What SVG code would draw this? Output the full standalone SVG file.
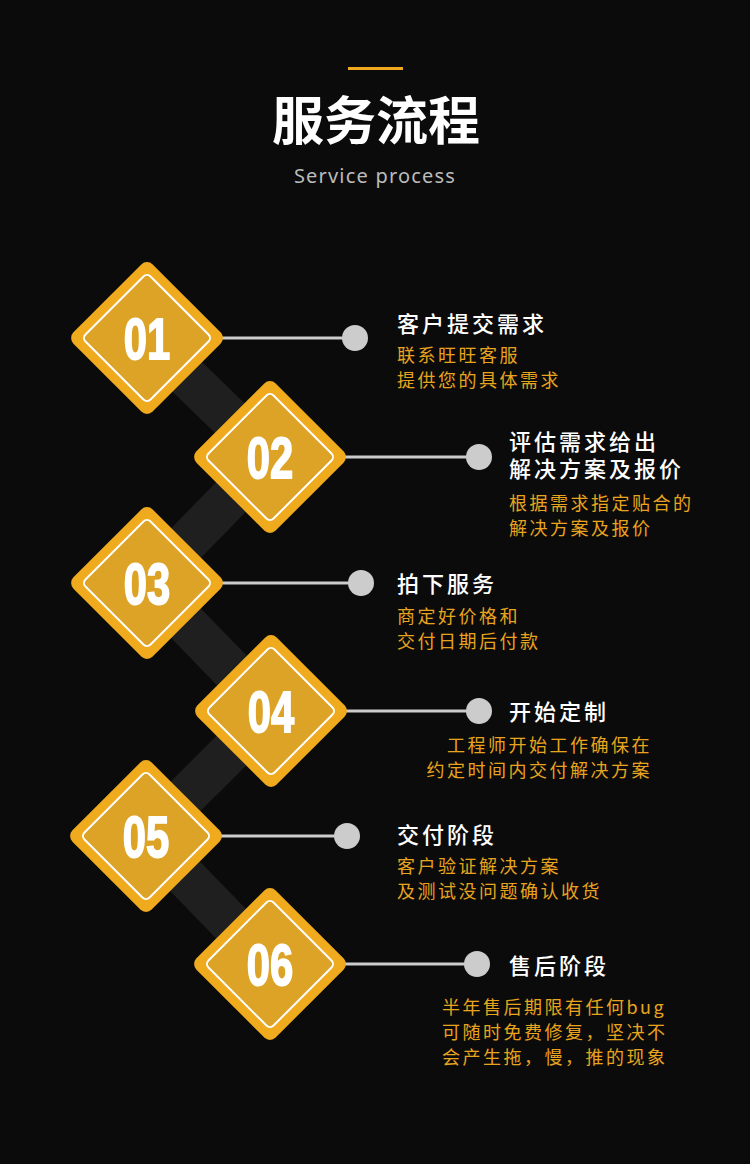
<svg xmlns="http://www.w3.org/2000/svg" width="750" height="1164" viewBox="0 0 750 1164">
<defs>
<style>
.cjk{font-family:"Noto Sans CJK SC","Noto Sans",sans-serif}
.title{font-size:22px;fill:#ffffff;letter-spacing:3px;font-weight:500}
.sub{font-size:18px;fill:#E8A41E;letter-spacing:2.5px}
.num{font-family:"Liberation Sans",Arial,sans-serif;font-weight:bold;font-size:58px;fill:#ffffff;stroke:#ffffff;stroke-width:1.8;text-anchor:middle}
.outer{fill:#F0AA1E}
.inner{fill:#DCA326;stroke:#ffffff;stroke-width:2}
.band{stroke:#1f1f1f;stroke-width:42;fill:none}
.link{stroke:#cccccc;stroke-width:3;fill:none}
.dot{fill:#cccccc}
</style>
<g id="diamond">
<rect x="-56" y="-56" width="112" height="112" rx="8" transform="rotate(45)" class="outer"/>
<rect x="-46" y="-46" width="92" height="92" rx="5" transform="rotate(45)" class="inner"/>
</g>
</defs>
<rect width="750" height="1164" fill="#0b0b0b"/>
<g id="header">
<rect x="348" y="67" width="55" height="3" fill="#F0A81E"/>
<text x="376" y="140" text-anchor="middle" class="cjk" font-size="52" font-weight="bold" fill="#ffffff">服务流程</text>
<text x="375" y="183" text-anchor="middle" font-family="Noto Sans, sans-serif" font-size="20" letter-spacing="1.2" fill="#bbbbbb">Service process</text>
</g>
<g id="connectors">
<line class="band" x1="147" y1="338" x2="270" y2="457"/>
<line class="band" x1="270" y1="457" x2="147" y2="583"/>
<line class="band" x1="147" y1="583" x2="271" y2="711"/>
<line class="band" x1="271" y1="711" x2="146" y2="836"/>
<line class="band" x1="146" y1="836" x2="270" y2="964"/>
<line class="link" x1="220" y1="338" x2="355" y2="338"/><circle class="dot" cx="355" cy="338" r="13"/>
<line class="link" x1="343" y1="457" x2="479" y2="457"/><circle class="dot" cx="479" cy="457" r="13"/>
<line class="link" x1="220" y1="583" x2="361" y2="583"/><circle class="dot" cx="361" cy="583" r="13"/>
<line class="link" x1="344" y1="711" x2="479" y2="711"/><circle class="dot" cx="479" cy="711" r="13"/>
<line class="link" x1="219" y1="836" x2="347" y2="836"/><circle class="dot" cx="347" cy="836" r="13"/>
<line class="link" x1="343" y1="964" x2="477" y2="964"/><circle class="dot" cx="477" cy="964" r="13"/>
</g>
<g id="step1">
<use href="#diamond" x="147" y="338"/>
<text class="num" transform="translate(147,359) scale(0.72,1)">01</text>
<text x="397" y="332" class="cjk title">客户提交需求</text>
<text x="397" y="362" class="cjk sub">联系旺旺客服</text>
<text x="397" y="387" class="cjk sub">提供您的具体需求</text>
</g>
<g id="step2">
<use href="#diamond" x="270" y="457"/>
<text class="num" transform="translate(270,478) scale(0.72,1)">02</text>
<text class="cjk title"><tspan x="509" y="450">评估需求给出</tspan><tspan x="509" y="477">解决方案及报价</tspan></text>
<text x="509" y="510" class="cjk sub">根据需求指定贴合的</text>
<text x="509" y="535" class="cjk sub">解决方案及报价</text>
</g>
<g id="step3">
<use href="#diamond" x="147" y="583"/>
<text class="num" transform="translate(147,604) scale(0.72,1)">03</text>
<text x="397" y="592" class="cjk title">拍下服务</text>
<text x="397" y="623" class="cjk sub">商定好价格和</text>
<text x="397" y="648" class="cjk sub">交付日期后付款</text>
</g>
<g id="step4">
<use href="#diamond" x="271" y="711"/>
<text class="num" transform="translate(271,732) scale(0.72,1)">04</text>
<text x="509" y="720" class="cjk title">开始定制</text>
<text x="652" y="752" text-anchor="end" class="cjk sub">工程师开始工作确保在</text>
<text x="652" y="777" text-anchor="end" class="cjk sub">约定时间内交付解决方案</text>
</g>
<g id="step5">
<use href="#diamond" x="146" y="836"/>
<text class="num" transform="translate(146,857) scale(0.72,1)">05</text>
<text x="397" y="843" class="cjk title">交付阶段</text>
<text x="397" y="873" class="cjk sub">客户验证解决方案</text>
<text x="397" y="898" class="cjk sub">及测试没问题确认收货</text>
</g>
<g id="step6">
<use href="#diamond" x="270" y="964"/>
<text class="num" transform="translate(270,985) scale(0.72,1)">06</text>
<text x="509" y="974" class="cjk title">售后阶段</text>
<text x="442" y="1014" class="cjk sub">半年售后期限有任何bug</text>
<text x="442" y="1039" class="cjk sub">可随时免费修复，坚决不</text>
<text x="442" y="1064" class="cjk sub">会产生拖，慢，推的现象</text>
</g>
</svg>
